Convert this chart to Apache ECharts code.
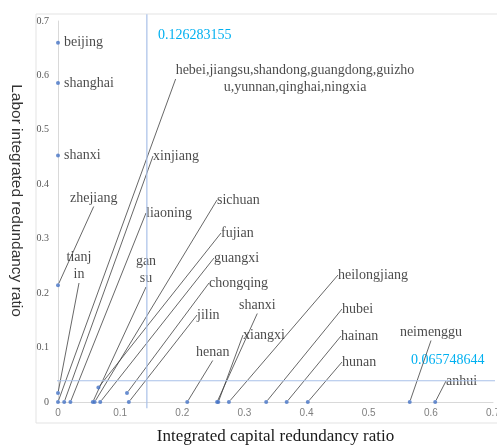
<!DOCTYPE html>
<html>
<head>
<meta charset="utf-8">
<script src="https://cdn.jsdelivr.net/npm/echarts@6/dist/echarts.min.js"></script>
<style>
  html, body { margin: 0; padding: 0; background: #fff; }
  #chart { width: 497px; height: 447px; }
</style>
</head>
<body>
<div id="chart"></div>
<script>
// provinces, in the order their leader lines leave the points
const provinces = [
  'beijing', 'shanghai', 'shanxi', 'zhejiang', 'tianj\nin',
  'hebei,jiangsu,shandong,guangdong,guizho\nu,yunnan,qinghai,ningxia',
  'xinjiang', 'liaoning', 'gan\nsu', 'sichuan', 'fujian', 'guangxi', 'chongqing', 'jilin',
  'henan', 'shanxi', 'xiangxi', 'heilongjiang', 'hubei', 'hainan', 'hunan', 'neimenggu', 'anhui'
];
const capitalRatio = [
  0, 0, 0, 0, 0, 0,
  0.01, 0.02, 0.056, 0.059, 0.065, 0.068, 0.111, 0.114,
  0.208, 0.256, 0.258, 0.275, 0.335, 0.368, 0.402, 0.566, 0.607
];
const laborRatio = [
  0.66, 0.586, 0.453, 0.2145, 0.0165, 0,
  0, 0, 0, 0, 0.0265, 0, 0.0165, 0,
  0, 0, 0, 0, 0, 0, 0, 0, 0
];
const xTicks = { min: 0, max: 0.7, step: 0.1 };
const yTicks = { min: 0, max: 0.7, step: 0.1 };

// reference lines (drawn where they sit in the picture) and their captions
const vLineX = [0.143, 0.143];
const vLineY = [-0.0115, 0.7125];
const hLineX = [-0.0065, 0.71];
const hLineY = [0.039, 0.039];
const vCaption = '0.126283155';
const hCaption = '0.065748644';

// where each province's label box sits (pixels); null = right of the point
const labelSpots = [
  null, null, null,
  [70, 198], [79, 266, 'center'], [295, 79, 'center'],
  [153, 156], [146, 213], [146, 270, 'center'], [217, 200], [221, 233], [214, 258], [209, 283], [197, 315],
  [196, 352], [239, 305], [243, 335], [338, 275], [342, 309], [341, 336], [342, 362],
  [431, 332, 'center'], [446, 381]
];

const serif = '"Liberation Serif", "Times New Roman", serif';
const sans = '"Liberation Sans", Arial, sans-serif';

const chart = echarts.init(document.getElementById('chart'));

const points = provinces.map((name, i) => ({
  name: name,
  value: [capitalRatio[i], laborRatio[i]],
  label: labelSpots[i] ? {} : { position: 'right', distance: 4 },
  labelLine: { show: !!labelSpots[i] }
}));

chart.setOption({
  animation: false,
  backgroundColor: '#fff',
  grid: { left: 58, right: 4, top: 21, bottom: 45, outerBoundsMode: 'none', containLabel: false },
  graphic: [
    {
      type: 'rect', z: -10, silent: true,
      shape: { x: 36, y: 14, width: 470, height: 409 },
      style: { fill: 'none', stroke: '#e3e3e3', lineWidth: 1 }
    },
    {
      type: 'text', left: 158, top: 28,
      style: { text: vCaption, fill: '#00b0f0', font: '14px ' + serif }
    },
    {
      type: 'text', left: 411, top: 353,
      style: { text: hCaption, fill: '#00b0f0', font: '14px ' + serif }
    }
  ],
  xAxis: {
    type: 'value',
    min: xTicks.min, max: xTicks.max, interval: xTicks.step,
    name: 'Integrated capital redundancy ratio',
    nameLocation: 'middle',
    nameGap: 26,
    nameTextStyle: { fontFamily: serif, fontSize: 17, color: '#1a1a1a' },
    axisLine: { show: true, lineStyle: { color: '#d9d9d9' } },
    axisTick: { show: false },
    splitLine: { show: false },
    axisLabel: { color: '#7f7f7f', fontFamily: sans, fontSize: 10, margin: 6 }
  },
  yAxis: {
    type: 'value',
    min: yTicks.min, max: yTicks.max, interval: yTicks.step,
    name: 'Labor integrated redundancy ratio',
    nameLocation: 'middle',
    nameRotate: -90,
    nameGap: 34,
    nameTextStyle: { fontFamily: sans, fontSize: 15.5, color: '#333', padding: [0, 22, 0, 0] },
    axisLine: { show: true, lineStyle: { color: '#d9d9d9' } },
    axisTick: { show: false },
    splitLine: { show: false },
    axisLabel: { color: '#595959', fontFamily: serif, fontSize: 10, margin: 9 }
  },
  series: [
    {
      type: 'line',
      data: vLineX.map((x, i) => [x, vLineY[i]]),
      clip: false, symbol: 'none', silent: true,
      lineStyle: { color: '#a9c0e8', width: 1.2 }
    },
    {
      type: 'line',
      data: hLineX.map((x, i) => [x, hLineY[i]]),
      clip: false, symbol: 'none', silent: true,
      lineStyle: { color: '#a9c0e8', width: 1.2 }
    },
    {
      type: 'scatter',
      data: points,
      symbolSize: 4,
      itemStyle: { color: '#4472c4' },
      label: {
        show: true,
        formatter: '{b}',
        fontFamily: serif,
        fontSize: 14,
        lineHeight: 17,
        color: '#1a1a1a'
      },
      labelLine: { show: true, lineStyle: { color: '#404040', width: 0.8 } },
      labelLayout: function (p) {
        const s = labelSpots[p.dataIndex];
        if (!s) return {};
        return { x: s[0], y: s[1], align: s[2] || 'left', verticalAlign: 'middle' };
      }
    }
  ]
});
</script>
</body>
</html>
